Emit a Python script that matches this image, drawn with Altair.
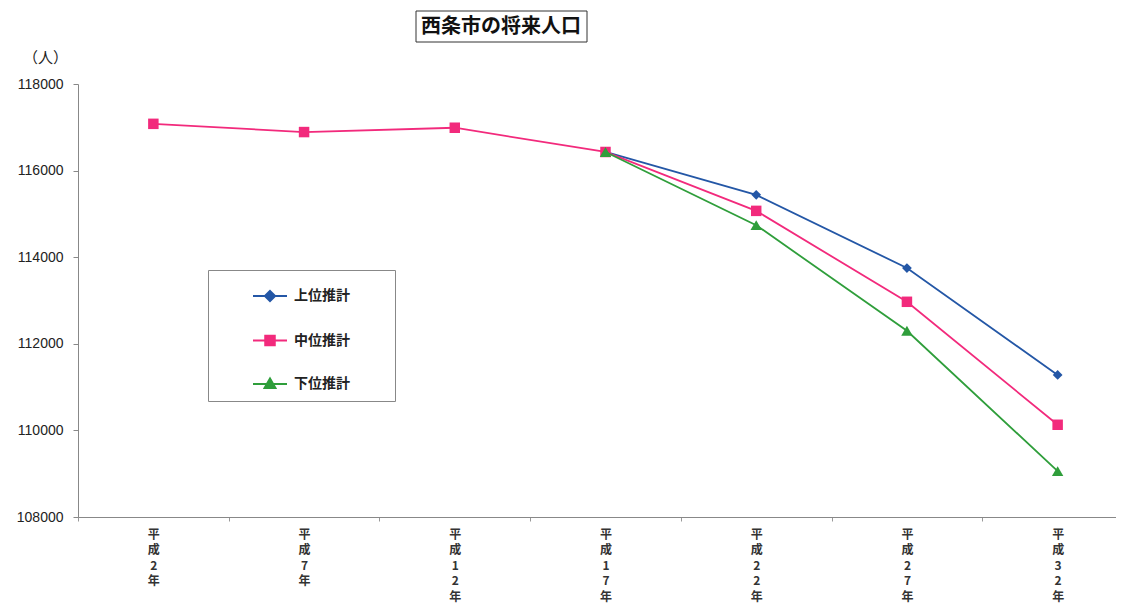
import altair as alt
import pandas as pd

categories = ["平成2年", "平成7年", "平成12年", "平成17年", "平成22年", "平成27年", "平成32年"]
series_names = ["上位推計", "中位推計", "下位推計"]
upper = [None, None, None, 116430, 115440, 113750, 111280]
middle = [117080, 116890, 116990, 116430, 115070, 112970, 110130]
lower = [None, None, None, 116430, 114740, 112300, 109060]
y_ticks = [108000, 110000, 112000, 114000, 116000, 118000]
title_text = "西条市の将来人口"
y_unit = "（人）"

colors = ["#2457a6", "#f22a7c", "#2f9e3b"]
shapes = ["diamond", "square", "triangle-up"]
sizes = [95, 110, 130]
legend_paths = [
    "M-1,0H1M0,-0.3L0.3,0L0,0.3L-0.3,0ZM6.6,0",
    "M-1,0H1M-0.28,-0.28H0.28V0.28H-0.28ZM6.6,0",
    "M-1,0H1M0,-0.32L0.32,0.24H-0.32ZM6.6,0",
]

rows = []
for name, vals in zip(series_names, [upper, middle, lower]):
    for c, v in zip(categories, vals):
        if v is not None:
            rows.append({"category": c, "series": name, "value": v})
df = pd.DataFrame(rows)

FONT_JP = "Noto Sans CJK JP"

def case_expr(values):
    s = "'" + values[-1] + "'"
    for n, v in reversed(list(zip(series_names[:-1], values[:-1]))):
        s = f"datum.value == '{n}' ? '{v}' : " + s
    return s

x_enc = alt.X(
    "category:N",
    sort=categories,
    scale=alt.Scale(type="band", domain=categories, range=[0, 1055], paddingInner=0, paddingOuter=0),
    axis=alt.Axis(
        title=None, labelAngle=0, labelExpr="split(datum.label, '')",
        labelLineHeight=15.5, labelFont=FONT_JP, labelFontSize=12, labelFontWeight="bold",
        labelColor="#333333", labelPadding=8, labelBaseline="top", labelOverlap=False,
        tickBand="extent", tickSize=4, tickColor="#999999", domainColor="#888888",
    ),
)
y_enc = alt.Y(
    "value:Q",
    scale=alt.Scale(domain=[108000, 118000], nice=False, zero=False),
    axis=alt.Axis(
        values=y_ticks, format="d", grid=False,
        title=y_unit, titleAngle=0, titleX=-33, titleY=-27, titleAlign="center",
        titleBaseline="middle", titleFont=FONT_JP, titleFontSize=15, titleFontWeight="normal",
        titleColor="#222222",
        labelFont="Liberation Sans", labelFontSize=14, labelColor="#222222", labelPadding=10,
        tickSize=5, tickColor="#888888", domainColor="#888888",
    ),
)

legend = alt.Legend(
    title=None, orient="none", legendX=130, legendY=186, padding=8,
    strokeColor="#888888", fillColor="white",
    symbolType=alt.ExprRef(expr=case_expr(legend_paths)),
    symbolStrokeColor=alt.ExprRef(expr=case_expr(colors)),
    symbolSize=1156, symbolStrokeWidth=2, symbolOffset=36,
    labelFont=FONT_JP, labelFontSize=14, labelFontWeight="bold", labelColor="#222222",
    labelOffset=6, rowPadding=16.5,
)

color_scale = alt.Scale(domain=series_names, range=colors)

layers = []
for i, name in enumerate(series_names):
    sub = alt.Chart(df).transform_filter(alt.datum.series == name)
    line = sub.mark_line(strokeWidth=1.8).encode(
        x=x_enc, y=y_enc,
        color=alt.Color("series:N", scale=color_scale, legend=legend),
    )
    pts = sub.mark_point(filled=True, opacity=1, shape=shapes[i], size=sizes[i]).encode(
        x=x_enc, y=y_enc,
        color=alt.Color("series:N", scale=color_scale, legend=legend),
    )
    layers += [line, pts]

title_df = pd.DataFrame({"t": [title_text]})
title_box = alt.Chart(title_df).mark_rect(fillOpacity=0, stroke="#333333", strokeWidth=1).encode(
    x=alt.value(338), x2=alt.value(509), y=alt.value(-73), y2=alt.value(-42)
)
title_txt = alt.Chart(title_df).mark_text(
    font=FONT_JP, fontSize=20, fontWeight="bold", color="#111111", align="center", baseline="middle"
).encode(text="t:N", x=alt.value(423), y=alt.value(-57))

chart = alt.layer(title_box, title_txt, *layers).properties(
    width=1038, height=433,
    autosize=alt.AutoSizeParams(type="none"),
    padding={"left": 70, "top": 76, "right": 0, "bottom": 86},
    background="white",
).configure_view(stroke=None)

chart.save("out.html", embed_options={"renderer": "svg", "actions": False})
